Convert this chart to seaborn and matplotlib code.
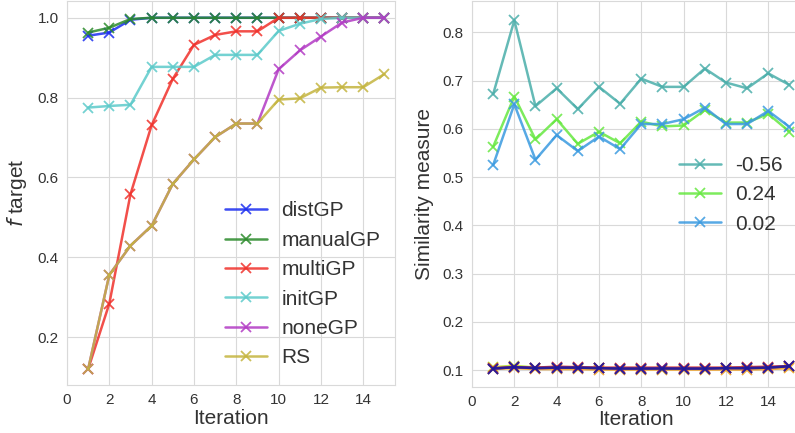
import numpy as np
import pandas as pd
import matplotlib
matplotlib.use("Agg")
import matplotlib.pyplot as plt
import seaborn as sns

iterations = list(range(1, 16))

# Left panel: f target per method
distGP = [0.955, 0.963, 0.995, 1.0, 1.0, 1.0, 1.0, 1.0, 1.0, 1.0, 1.0, 1.0, 1.0, 1.0, 1.0]
manualGP = [0.963, 0.975, 0.997, 1.0, 1.0, 1.0, 1.0, 1.0, 1.0, 1.0, 1.0, 1.0, 1.0, 1.0, 1.0]
multiGP = [0.12, 0.284, 0.558, 0.731, 0.847, 0.932, 0.957, 0.966, 0.966, 1.0, 1.0, 1.0, 1.0, 1.0, 1.0]
initGP = [0.775, 0.779, 0.782, 0.877, 0.877, 0.877, 0.907, 0.907, 0.907, 0.967, 0.985, 0.997, 1.0, 1.0, 1.0]
noneGP = [0.12, 0.356, 0.429, 0.479, 0.584, 0.645, 0.701, 0.735, 0.735, 0.871, 0.918, 0.953, 0.988, 1.0, 1.0]
RS = [0.12, 0.356, 0.429, 0.479, 0.584, 0.645, 0.701, 0.735, 0.735, 0.795, 0.798, 0.825, 0.826, 0.826, 0.859]
left_names = ["distGP", "manualGP", "multiGP", "initGP", "noneGP", "RS"]
left_values = [distGP, manualGP, multiGP, initGP, noneGP, RS]
left_colors = ["#1a2cf0", "#2a8a2a", "#f0302a", "#5ccaca", "#b23ac4", "#c4b43e"]

# Right panel: similarity measure
sim_neg056 = [0.672, 0.825, 0.647, 0.684, 0.641, 0.687, 0.652, 0.704, 0.687, 0.687, 0.725, 0.696, 0.684, 0.715, 0.691]
sim_024 = [0.563, 0.667, 0.578, 0.620, 0.569, 0.594, 0.570, 0.615, 0.605, 0.607, 0.639, 0.613, 0.613, 0.631, 0.594]
sim_002 = [0.525, 0.651, 0.536, 0.587, 0.554, 0.584, 0.558, 0.610, 0.610, 0.620, 0.644, 0.610, 0.610, 0.637, 0.604]
right_names = ["-0.56", "0.24", "0.02"]
right_values = [sim_neg056, sim_024, sim_002]
right_colors = ["#4aaeaa", "#66e840", "#3a9ae0"]

# Right panel: unlabelled series near 0.1
low_yellowgreen = [0.106, 0.109, 0.105, 0.105, 0.105, 0.104, 0.103, 0.103, 0.103, 0.103, 0.103, 0.104, 0.104, 0.105, 0.107]
low_orange = [0.102, 0.104, 0.102, 0.102, 0.102, 0.101, 0.101, 0.101, 0.101, 0.101, 0.101, 0.101, 0.101, 0.102, 0.104]
low_red = [0.104, 0.106, 0.105, 0.107, 0.106, 0.105, 0.105, 0.105, 0.105, 0.105, 0.105, 0.105, 0.106, 0.107, 0.108]
low_purple = [0.103, 0.106, 0.104, 0.105, 0.105, 0.104, 0.103, 0.103, 0.104, 0.103, 0.103, 0.104, 0.104, 0.105, 0.108]
low_navy = [0.103, 0.106, 0.104, 0.105, 0.105, 0.104, 0.103, 0.103, 0.103, 0.103, 0.103, 0.104, 0.104, 0.105, 0.108]
low_values = [low_yellowgreen, low_orange, low_red, low_purple, low_navy]
low_colors = ["#b8e030", "#f0a020", "#d02020", "#7a2a9a", "#1a1a9a"]

sns.set_style("whitegrid", {"grid.color": ".85", "axes.edgecolor": ".85"})
plt.rcParams["font.family"] = ["Liberation Sans", "DejaVu Sans"]
plt.rcParams["text.color"] = ".2"
plt.rcParams["axes.labelcolor"] = ".2"
plt.rcParams["xtick.color"] = ".2"
plt.rcParams["ytick.color"] = ".2"

fig = plt.figure(figsize=(7.95, 4.33), dpi=100)
W, H = 795.0, 433.0
ax1 = fig.add_axes([67 / W, (H - 385) / H, 328 / W, 384 / H])
ax2 = fig.add_axes([472 / W, (H - 386.7) / H, 328 / W, 385.7 / H])


def draw(ax, values, color, label):
    df = pd.DataFrame({"Iteration": iterations, "value": values})
    sns.lineplot(data=df, x="Iteration", y="value", ax=ax, color=color, label=label,
                 marker="x", markersize=6.5, markeredgewidth=1.3, markeredgecolor=color,
                 linewidth=1.8, alpha=0.85, legend=label is not None)


for name, vals, col in zip(left_names, left_values, left_colors):
    draw(ax1, vals, col, name)
for name, vals, col in zip(right_names, right_values, right_colors):
    draw(ax2, vals, col, name)
for vals, col in zip(low_values, low_colors):
    draw(ax2, vals, col, None)

for ax in (ax1, ax2):
    ax.set_xlim(0, 15.5)
    ax.set_xticks(range(0, 16, 2))
    ax.tick_params(labelsize=11, length=0, pad=6)
    ax.set_xlabel("Iteration", fontsize=15, labelpad=1)
    for s in ax.spines.values():
        s.set_color(".85")

ax1.set_ylim(0.08, 1.042)
ax1.set_yticks([0.2, 0.4, 0.6, 0.8, 1.0])
ax1.set_ylabel("$f$ target", fontsize=15, labelpad=6)
ax2.set_ylim(0.0655, 0.865)
ax2.set_yticks([0.1, 0.2, 0.3, 0.4, 0.5, 0.6, 0.7, 0.8])
ax2.set_ylabel("Similarity measure", fontsize=15, labelpad=6)

handles1, labels1 = ax1.get_legend_handles_labels()
ax1.legend(handles1, labels1, loc="upper left", bbox_to_anchor=(0.425, 0.527), frameon=False,
           fontsize=15, handlelength=2.0, handletextpad=0.7, labelspacing=0.5)
handles2, labels2 = ax2.get_legend_handles_labels()
ax2.legend(handles2[:3], labels2[:3], loc="upper left", bbox_to_anchor=(0.575, 0.647), frameon=False,
           fontsize=15, handlelength=2.0, handletextpad=0.7, labelspacing=0.5)

fig.savefig("out.png", dpi=100)
